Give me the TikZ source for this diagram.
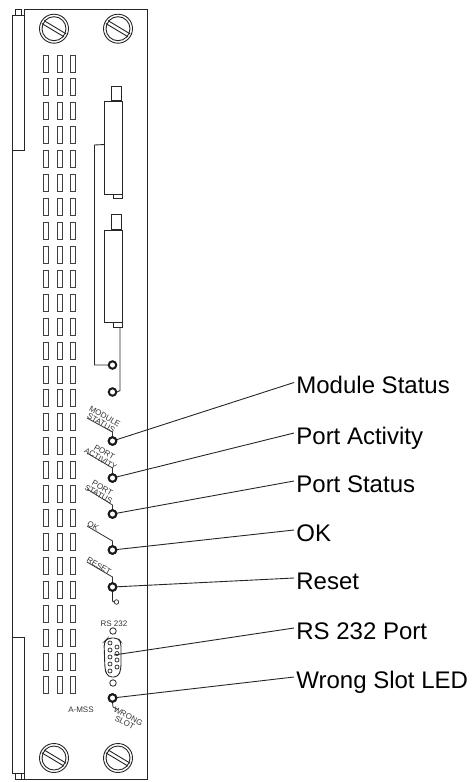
\documentclass[tikz,border=0pt]{standalone}
\usepackage{fontspec}
\setmainfont{Liberation Sans}
\tikzset{
 ln/.style={draw=black!85,line width=0.9pt},
 thin ln/.style={draw=black!80,line width=0.8pt},
 led/.style={circle,draw=black!90,line width=2pt,fill=white,minimum size=7.5pt,inner sep=0pt},
 hole/.style={circle,draw=black!85,line width=0.8pt,fill=white,minimum size=6.5pt,inner sep=0pt},
 pin/.style={circle,draw=black!85,line width=0.7pt,fill=white,minimum size=4pt,inner sep=0pt},
 biglabel/.style={anchor=west,font=\fontsize{24}{24}\selectfont,inner xsep=2.2pt,inner ysep=0pt,text height=22pt,text depth=0pt},
 tiny/.style={font=\fontsize{8}{7.6}\selectfont,inner sep=0pt,align=center,text=black!80},
 slotrect/.style={draw=black!75,line width=0.9pt},
}
\newcommand{\myscrew}[2]{%
 \begin{scope}[shift={(#1,#2)}]
  \draw[ln] (0,0) circle (14.5);
  \draw[ln] (0,0) circle (12);
  \draw[ln] (-12.2,-5.2) -- (10,8.1) (-10,-8.1) -- (12.2,5.2);
 \end{scope}}
\begin{document}
\begin{tikzpicture}[x=1pt,y=-1pt]
\useasboundingbox (0,0) rectangle (475,782);
% panel
\draw[ln] (24.5,15) -- (24.5,9) -- (147.5,9) -- (147.5,779) -- (24.5,779) -- (24.5,637);
\draw[ln] (12,15) -- (24.5,15) -- (24.5,150.5) -- (12,150.5);
\draw[ln] (12,15) -- (12,773) -- (24.5,773);
\draw[ln] (12,637) -- (24.5,637);
\draw[ln] (15.5,15) -- (15.5,9) -- (21.5,9) -- (21.5,15);
\draw[ln] (15.5,773) -- (15.5,779) -- (24.5,779);
\draw[ln] (21.5,773) -- (21.5,779);
% screws
\myscrew{54}{28.7}\myscrew{118}{28.7}\myscrew{54}{758}\myscrew{118}{758}
% vent slots
\foreach \r in {0,...,26}{
 \foreach \c in {43.5,57,70}{
  \draw[slotrect] (\c,55+23.92*\r) rectangle ++(5,17);
 }}
% connectors
\draw[ln] (111,86) rectangle (121,100);
\draw[ln] (104.5,101.5) rectangle (122,194);
\draw[ln] (113.5,194) rectangle (122,198.5);
\draw[ln] (111,214) rectangle (121,229);
\draw[ln] (104.5,230.5) rectangle (122,322.5);
\draw[ln] (113.5,322.5) rectangle (122,327);
% LEDs
\node[led] (ledA) at (112.5,365) {};
\node[led] (ledB) at (112.5,392) {};
\node[led] (ledMod) at (112.5,441) {};
\node[led] (ledAct) at (112.5,478) {};
\node[led] (ledSta) at (112.5,514) {};
\node[led] (ledOk) at (112.5,550) {};
\node[led] (ledRes) at (112.5,587) {};
\node[led] (ledWrong) at (112.5,698) {};
\node[pin,minimum size=4.5pt] (resetHole) at (116.5,602) {};
% internal wires
\coordinate (wA) at (104.5,144.5);
\coordinate (wB) at (120,327);
\draw[ln] (wA) -- (94.5,145) -- (94.5,365) -- (ledA.west);
\draw[ln] (wB) -- (120,390.5) -- (ledB.east);
\draw[ln] (ledRes.south) -- (112.5,601) -- (resetHole.west);
% small labels with their underlines
\coordinate (uM1) at (87,418); \coordinate (uM2) at (112.5,432);
\coordinate (uA1) at (87,453); \coordinate (uA2) at (112.5,468);
\coordinate (uS1) at (87,489); \coordinate (uS2) at (112.5,505);
\coordinate (uO1) at (87,526); \coordinate (uO2) at (112.5,541);
\coordinate (uR1) at (87,562); \coordinate (uR2) at (112.5,577);
\draw[thin ln] (uM1) -- (uM2) -- (ledMod.north);
\draw[thin ln] (uA1) -- (uA2) -- (ledAct.north);
\draw[thin ln] (uS1) -- (uS2) -- (ledSta.north);
\draw[thin ln] (uO1) -- (uO2) -- (ledOk.north);
\draw[thin ln] (uR1) -- (uR2) -- (ledRes.north);
\node[tiny,rotate=-30] (tMod) at (103,419.5) {MODULE\\STATUS};
\node[tiny,rotate=-30] (tAct) at (102.5,455.5) {PORT\\ACTIVITY};
\node[tiny,rotate=-30] (tSta) at (100.5,491) {PORT\\STATUS};
\node[tiny,rotate=-30] (tOk) at (93,526) {OK};
\node[tiny,rotate=-30] (tRes) at (99,566) {RESET};
\node[tiny] (tRS) at (114,624) {RS 232};
\node[tiny] (tMSS) at (81,710) {A-MSS};
\node[tiny,rotate=-28] (tWrong) at (126.5,719.5) {WRONG\\SLOT};
\coordinate (uW1) at (113,707); \coordinate (uW2) at (118,709.5);
\draw[thin ln] (ledWrong.south) -- (uW1) -- (uW2);
% RS232
\node[hole] (hTop) at (113,631) {};
\node[hole] (hBot) at (113,683) {};
\draw[ln,rounded corners=4pt] (108,638) -- (118,638) -- (121,642) -- (121,669) -- (118,677) -- (108,677) -- (105,670) -- (104,642) -- cycle;
\foreach \n/\y in {1/643,2/650,3/657,4/664,5/671}{\node[pin] (pL\n) at (110,\y) {};}
\foreach \n/\y in {1/647,2/653.5,3/660,4/667}{\node[pin] (pR\n) at (117,\y) {};}
% leaders
\node[biglabel] (lMod) at (294,382.5) {Module Status};
\node[biglabel] (lAct) at (294,433) {Port Activity};
\node[biglabel] (lSta) at (294,481) {Port Status};
\node[biglabel] (lOk) at (294,530) {OK};
\node[biglabel] (lRes) at (294,578) {Reset};
\node[biglabel] (lRS) at (294,628) {RS 232 Port};
\node[biglabel] (lWrong) at (294,677) {Wrong Slot LED};
\coordinate (rsPt) at (114,655);
\draw[ln] (ledMod.center) -- (lMod.west);
\draw[ln] (ledAct.center) -- (lAct.west);
\draw[ln] (ledSta.center) -- (lSta.west);
\draw[ln] (ledOk.center) -- (lOk.west);
\draw[ln] (ledRes.center) -- (lRes.west);
\draw[ln] (rsPt) -- (lRS.west);
\draw[ln] (ledWrong.center) -- (lWrong.west);
\node[led] at (ledMod) {};
\node[led] at (ledAct) {};
\node[led] at (ledSta) {};
\node[led] at (ledOk) {};
\node[led] at (ledRes) {};
\node[led] at (ledWrong) {};
\end{tikzpicture}
\end{document}
